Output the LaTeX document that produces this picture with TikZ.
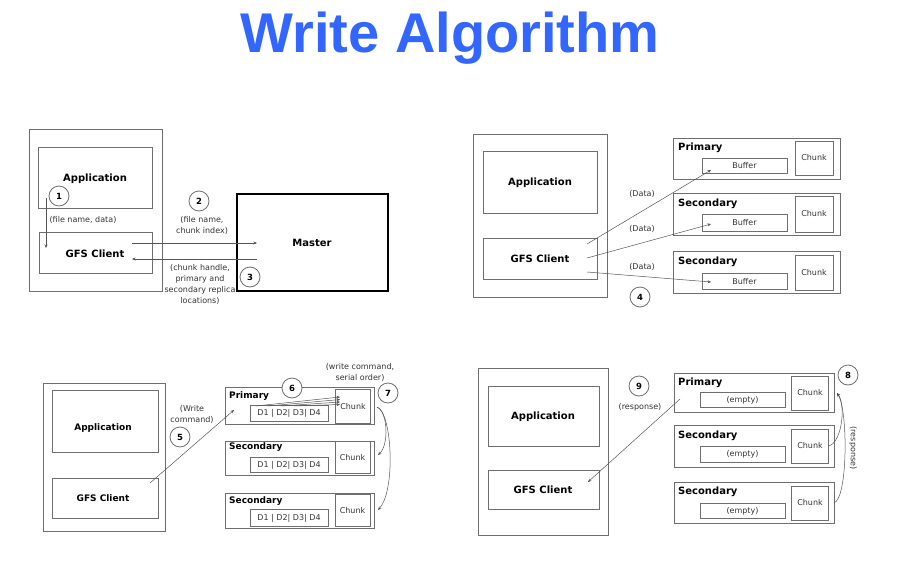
\documentclass[tikz,border=0pt]{standalone}
\usepackage{fontspec}
\setmainfont{DejaVu Sans}
\newfontfamily\ttlfont{Liberation Sans}
\usetikzlibrary{arrows.meta}
\definecolor{ttlblue}{HTML}{3366FF}
\definecolor{boxgray}{HTML}{6E6E6E}
\definecolor{txtgray}{HTML}{333333}
\definecolor{arrgray}{HTML}{555555}
\tikzset{
  box/.style={draw=boxgray,line width=0.8pt,inner sep=0pt,rectangle},
  bigname/.style={font=\bfseries\fontsize{10}{12}\selectfont,text=black,inner sep=0pt},
  midname/.style={font=\bfseries\fontsize{9}{11}\selectfont,text=black,inner sep=0pt},
  small/.style={font=\fontsize{8}{11}\selectfont,text=txtgray,inner sep=0pt,align=center},
  tiny/.style={font=\fontsize{8}{9}\selectfont,text=txtgray,inner sep=0pt},
  num/.style={circle,draw=boxgray,line width=0.8pt,fill=white,minimum size=20pt,inner sep=0pt,font=\bfseries\fontsize{8.5}{10}\selectfont},
  arr/.style={draw=arrgray,line width=0.5pt,-{Stealth[length=3.5pt,width=3pt]}},
}
\begin{document}
\begin{tikzpicture}[x=1pt,y=-1pt]
\useasboundingbox (0,0) rectangle (913,584);
% title
\node[font=\ttlfont\bfseries\fontsize{56}{60}\selectfont,text=ttlblue,anchor=base,inner sep=0pt] (title) at (450,52) {Write Algorithm};

% ---------- Panel 1 ----------
\node[box,minimum width=133,minimum height=162] (outer1) at (95.5,210) {};
\node[box,minimum width=114,minimum height=61] (app1) at (95,177.5) {};
\node[bigname] (app1t) at (95,179) {Application};
\node[box,minimum width=113,minimum height=41] (cli1) at (95.5,252.5) {};
\node[bigname] (cli1t) at (95,254) {GFS Client};
\node[box,draw=black,line width=2.2pt,minimum width=151,minimum height=97] (master) at (312.5,242.5) {};
\node[bigname] (mastert) at (312,243) {Master};
\node[num] (c1) at (59,196) {1};
\node[num] (c2) at (199,201) {2};
\node[num] (c3) at (250,277) {3};
\node[small] (l1) at (83,220) {(file name, data)};
\node[small] (l2) at (202,225.5) {(file name,\\chunk index)};
\node[small] (l3) at (200,284.5) {(chunk handle,\\primary and\\secondary replica\\locations)};
\coordinate (a1s) at (46,198);
\coordinate (a1e) at (46,248);
\coordinate (a2s) at (132,243);
\coordinate (a2e) at (257,243);
\coordinate (a3s) at (257,259);
\coordinate (a3e) at (132,259);
\draw[arr] (a1s) -- (a1e);
\draw[arr] (a2s) -- (a2e);
\draw[arr] (a3s) -- (a3e);

% ---------- Panel 2 ----------
\node[box,minimum width=134,minimum height=163] (outer2) at (540,215.5) {};
\node[box,minimum width=114,minimum height=62] (app2) at (540,182) {};
\node[bigname] (app2t) at (540,183) {Application};
\node[box,minimum width=114,minimum height=41] (cli2) at (540,258.5) {};
\node[bigname] (cli2t) at (540,259) {GFS Client};
% primary
\node[box,minimum width=167,minimum height=41] (p2) at (756.5,158.5) {};
\node[bigname,anchor=west] (p2t) at (678,148) {Primary};
\node[box,minimum width=85,minimum height=15] (p2b) at (744.5,165.5) {};
\node[tiny] (p2bt) at (744.5,166) {Buffer};
\node[box,minimum width=38,minimum height=34] (p2c) at (814,158) {};
\node[tiny] (p2ct) at (814,158) {Chunk};
% secondary a
\node[box,minimum width=167,minimum height=42] (sa2) at (756.5,214) {};
\node[bigname,anchor=west] (sa2t) at (678,204) {Secondary};
\node[box,minimum width=85,minimum height=17] (sa2b) at (744.5,222.5) {};
\node[tiny] (sa2bt) at (744.5,223) {Buffer};
\node[box,minimum width=38,minimum height=36] (sa2c) at (814,214) {};
\node[tiny] (sa2ct) at (814,214) {Chunk};
% secondary b
\node[box,minimum width=167,minimum height=42] (sb2) at (756.5,272) {};
\node[bigname,anchor=west] (sb2t) at (678,262) {Secondary};
\node[box,minimum width=85,minimum height=16] (sb2b) at (744.5,281) {};
\node[tiny] (sb2bt) at (744.5,281.5) {Buffer};
\node[box,minimum width=38,minimum height=35] (sb2c) at (814,272.5) {};
\node[tiny] (sb2ct) at (814,272.5) {Chunk};
\node[small] (d1) at (642,194) {(Data)};
\node[small] (d2) at (642,229) {(Data)};
\node[small] (d3) at (642,267) {(Data)};
\node[num] (c4) at (640,297) {4};
\coordinate (b1s) at (587,244);
\coordinate (b1e) at (711,170);
\coordinate (b2s) at (587,258);
\coordinate (b2e) at (711,224);
\coordinate (b3s) at (587,272);
\coordinate (b3e) at (711,282);
\draw[arr] (b1s) -- (b1e);
\draw[arr] (b2s) -- (b2e);
\draw[arr] (b3s) -- (b3e);

% ---------- Panel 3 ----------
\node[box,minimum width=122,minimum height=148] (outer3) at (104,457) {};
\node[box,minimum width=106,minimum height=62] (app3) at (105,421) {};
\node[midname] (app3t) at (103,428) {Application};
\node[box,minimum width=106,minimum height=40] (cli3) at (105,498) {};
\node[midname] (cli3t) at (103,498) {GFS Client};
% primary
\node[box,minimum width=149,minimum height=37] (p3) at (299.5,405.5) {};
\node[midname,anchor=west] (p3t) at (229,396) {Primary};
\node[box,minimum width=78,minimum height=16] (p3d) at (289,413) {};
\node[tiny] (p3dt) at (289,413.5) {D1 | D2| D3| D4};
\node[box,minimum width=35,minimum height=34] (p3c) at (352.5,406) {};
\node[tiny] (p3ct) at (353,407) {Chunk};
% secondary a
\node[box,minimum width=149,minimum height=34] (sa3) at (299.5,458) {};
\node[midname,anchor=west] (sa3t) at (229,447) {Secondary};
\node[box,minimum width=78,minimum height=15] (sa3d) at (289,464.5) {};
\node[tiny] (sa3dt) at (289,465) {D1 | D2| D3| D4};
\node[box,minimum width=35,minimum height=32] (sa3c) at (352.5,457) {};
\node[tiny] (sa3ct) at (352.5,458) {Chunk};
% secondary b
\node[box,minimum width=149,minimum height=35] (sb3) at (299.5,510.5) {};
\node[midname,anchor=west] (sb3t) at (229,501) {Secondary};
\node[box,minimum width=78,minimum height=17] (sb3d) at (289,517.5) {};
\node[tiny] (sb3dt) at (289,518) {D1 | D2| D3| D4};
\node[box,minimum width=35,minimum height=32] (sb3c) at (352.5,510) {};
\node[tiny] (sb3ct) at (352.5,510.5) {Chunk};
\node[num] (c5) at (180,437) {5};
\node[num] (c6) at (292,388) {6};
\node[num] (c7) at (388,393) {7};
\node[small] (l5) at (192,414) {(Write\\command)};
\node[small] (l7) at (360,372.5) {(write command,\\serial order)};
\coordinate (e5s) at (150,483);
\coordinate (e5e) at (234,410);
\draw[arr] (e5s) -- (e5e);
\coordinate (f1s) at (256,406);
\coordinate (f2s) at (268,406);
\coordinate (f3s) at (281,406);
\coordinate (f4s) at (294,406);
\coordinate (f1e) at (340,397);
\coordinate (f2e) at (340,399.5);
\coordinate (f3e) at (340,402);
\coordinate (f4e) at (340,404.5);
\draw[arr] (f1s) -- (f1e);
\draw[arr] (f2s) -- (f2e);
\draw[arr] (f3s) -- (f3e);
\draw[arr] (f4s) -- (f4e);
\coordinate (g0) at (377,407);
\coordinate (g1) at (378,455);
\coordinate (g2) at (378,510);
\draw[arr] (g0) .. controls (388,412) and (389,445) .. (g1);
\draw[arr] (g0) .. controls (392,412) and (396,490) .. (g2);

% ---------- Panel 4 ----------
\node[box,minimum width=130,minimum height=167] (outer4) at (543,451.5) {};
\node[box,minimum width=111,minimum height=60] (app4) at (543.5,416) {};
\node[bigname] (app4t) at (543,417) {Application};
\node[box,minimum width=111,minimum height=39] (cli4) at (543.5,489.5) {};
\node[bigname] (cli4t) at (543,490) {GFS Client};
% primary
\node[box,minimum width=160,minimum height=39] (p4) at (754,392.5) {};
\node[bigname,anchor=west] (p4t) at (678,383) {Primary};
\node[box,minimum width=85,minimum height=15] (p4e) at (742.5,399.5) {};
\node[tiny] (p4et) at (742.5,400) {(empty)};
\node[box,minimum width=37,minimum height=34] (p4c) at (809.5,393) {};
\node[tiny] (p4ct) at (810,393) {Chunk};
% secondary a
\node[box,minimum width=160,minimum height=42] (sa4) at (754,446) {};
\node[bigname,anchor=west] (sa4t) at (678,436) {Secondary};
\node[box,minimum width=85,minimum height=16] (sa4e) at (742.5,454) {};
\node[tiny] (sa4et) at (742.5,454.5) {(empty)};
\node[box,minimum width=37,minimum height=34] (sa4c) at (809.5,446) {};
\node[tiny] (sa4ct) at (810,446) {Chunk};
% secondary b
\node[box,minimum width=160,minimum height=41] (sb4) at (754,502.5) {};
\node[bigname,anchor=west] (sb4t) at (678,492) {Secondary};
\node[box,minimum width=85,minimum height=15] (sb4e) at (742.5,510.5) {};
\node[tiny] (sb4et) at (742.5,511) {(empty)};
\node[box,minimum width=37,minimum height=34] (sb4c) at (809.5,503) {};
\node[tiny] (sb4ct) at (810,503) {Chunk};
\node[num] (c8) at (848,375) {8};
\node[num] (c9) at (639,386) {9};
\node[small] (l9) at (640,407) {(response)};
\node[small,rotate=-90] (l8) at (853,448) {(response)};
\coordinate (h9s) at (680,399);
\coordinate (h9e) at (588,482);
\draw[arr] (h9s) -- (h9e);
\coordinate (k1s) at (828,446);
\coordinate (k2s) at (834,503);
\coordinate (ke) at (837,393);
\draw[arr] (k1s) .. controls (842,444) and (846,405) .. (ke);
\draw[arr] (k2s) .. controls (848,498) and (848,410) .. (ke);
\end{tikzpicture}
\end{document}
